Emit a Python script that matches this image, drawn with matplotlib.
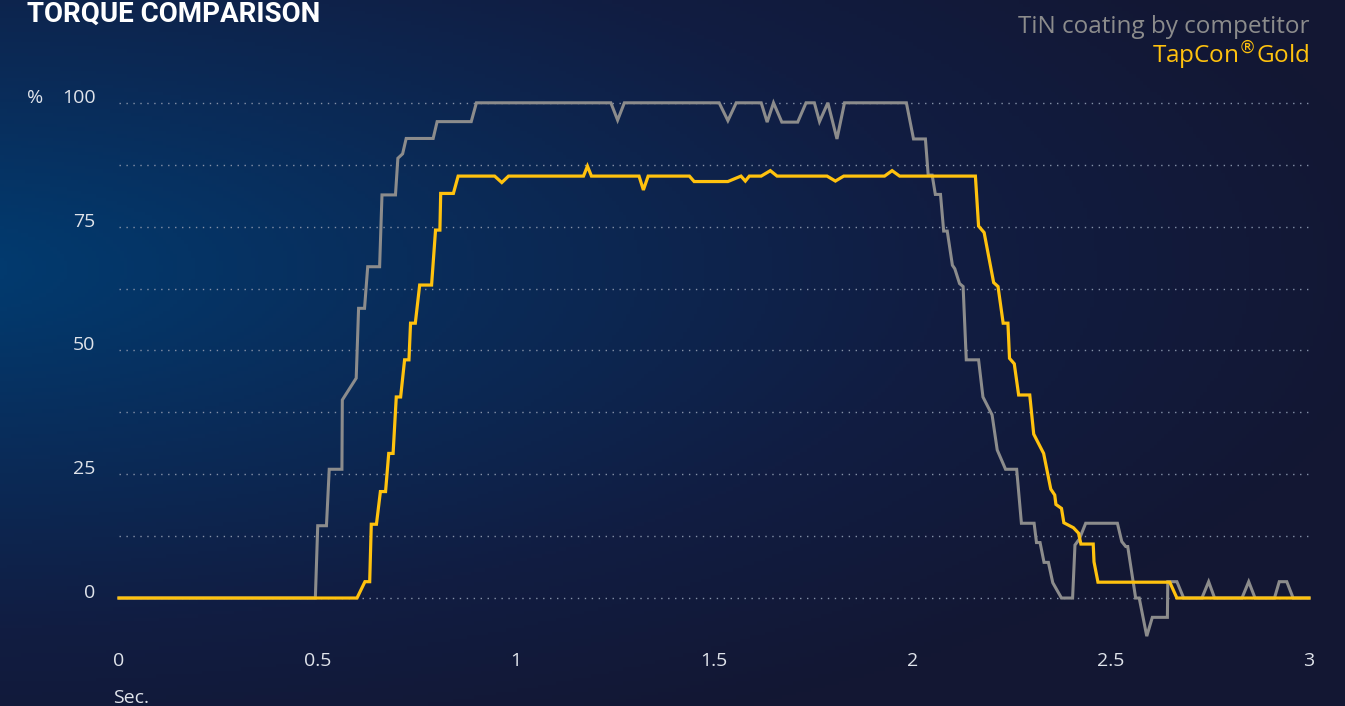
import matplotlib
matplotlib.use("Agg")
import matplotlib.pyplot as plt
import numpy as np
from matplotlib.colors import LinearSegmentedColormap

# time in seconds, torque in %
tin_t = [0, 0.495, 0.501, 0.523, 0.530, 0.562, 0.563, 0.598, 0.604, 0.619,
         0.627, 0.657, 0.663, 0.697, 0.703, 0.715, 0.724, 0.792, 0.802, 0.888,
         0.901, 1.240, 1.257, 1.274, 1.513, 1.535, 1.556, 1.619, 1.634, 1.650,
         1.671, 1.711, 1.732, 1.753, 1.766, 1.787, 1.810, 1.829, 1.985, 2.003,
         2.033, 2.040, 2.050, 2.058, 2.071, 2.079, 2.088, 2.101, 2.107, 2.119,
         2.128, 2.136, 2.167, 2.178, 2.201, 2.214, 2.235, 2.263, 2.275, 2.307,
         2.313, 2.322, 2.332, 2.343, 2.354, 2.376, 2.404, 2.410, 2.421, 2.437,
         2.517, 2.528, 2.538, 2.543, 2.563, 2.572, 2.591, 2.605, 2.643, 2.644,
         2.667, 2.684, 2.730, 2.747, 2.762, 2.831, 2.848, 2.864, 2.913, 2.925,
         2.944, 2.960, 3.0]
tin_v = [0, 0, 14.6, 14.6, 26, 26, 40, 44.4, 58.5, 58.5,
         66.9, 66.9, 81.4, 81.4, 88.8, 89.7, 92.8, 92.8, 96.2, 96.2,
         100, 100, 96.5, 100, 100, 96.4, 100, 100, 96.1, 100,
         96.1, 96.1, 100, 100, 96.2, 100, 92.7, 100, 100, 92.7,
         92.7, 85.4, 85.4, 81.5, 81.5, 74.1, 74.1, 67.2, 66.5, 63.5,
         62.9, 48.1, 48.1, 40.6, 37, 29.9, 26, 26, 15.1, 15.1,
         11.2, 11.2, 7.2, 7.2, 3.1, 0, 0, 10.7, 11.9, 15.1,
         15.1, 11.4, 10.4, 10.4, 0, 0, -7.7, -3.9, -3.9, 3.3,
         3.3, 0, 0, 3.3, 0, 0, 3.3, 0, 0, 3.3,
         3.3, 0, 0]

gold_t = [0, 0.600, 0.620, 0.632, 0.636, 0.649, 0.659, 0.672, 0.680, 0.691,
          0.699, 0.710, 0.720, 0.731, 0.735, 0.747, 0.758, 0.788, 0.798, 0.809,
          0.811, 0.843, 0.855, 0.947, 0.965, 0.982, 1.171, 1.181, 1.191, 1.311,
          1.322, 1.334, 1.438, 1.450, 1.535, 1.568, 1.579, 1.589, 1.619, 1.642,
          1.659, 1.785, 1.806, 1.827, 1.930, 1.949, 1.968, 2.159, 2.167, 2.181,
          2.205, 2.216, 2.229, 2.241, 2.245, 2.257, 2.268, 2.296, 2.306, 2.331,
          2.349, 2.359, 2.362, 2.376, 2.382, 2.406, 2.419, 2.425, 2.456, 2.458,
          2.468, 2.649, 2.667, 3.0]
gold_v = [0, 0, 3.3, 3.3, 14.9, 14.9, 21.5, 21.5, 29.2, 29.2,
          40.6, 40.6, 48.1, 48.1, 55.5, 55.5, 63.2, 63.2, 74.3, 74.3,
          81.7, 81.7, 85.2, 85.2, 83.9, 85.2, 85.2, 87.2, 85.2, 85.2,
          82.4, 85.2, 85.2, 84.1, 84.1, 85.2, 84.2, 85.2, 85.2, 86.3,
          85.2, 85.2, 84.2, 85.2, 85.2, 86.3, 85.2, 85.2, 75.1, 73.8,
          63.7, 62.9, 55.5, 55.5, 48.4, 47.3, 41, 41, 33.1, 29.2,
          22, 20.8, 18.9, 18.1, 15.2, 14.2, 13.1, 10.9, 10.9, 7.3,
          3.2, 3.2, 0, 0]

x_ticks = [0, 0.5, 1, 1.5, 2, 2.5, 3]
x_labels = ["0", "0.5", "1", "1.5", "2", "2.5", "3"]
y_ticks = [0, 25, 50, 75, 100]
y_labels = ["0", "25", "50", "75", "100"]

GRAY = "#8c8c8c"
GOLD = "#ffc20e"
TXT = "#dfe3ea"

plt.rcParams["font.family"] = ["Open Sans", "DejaVu Sans"]

W, H = 1345, 706
fig = plt.figure(figsize=(W / 100, H / 100), dpi=100)

# background gradient
bg = fig.add_axes([0, 0, 1, 1])
yy, xx = np.mgrid[0:1:200j, 0:1:380j]
d = np.sqrt(((xx + 0.05) / 1.1) ** 2 + ((yy - 0.38) / 0.75) ** 2)
d = np.clip(d, 0, 1)
cmap = LinearSegmentedColormap.from_list(
    "bg", ["#023a6e", "#0a2b58", "#111d42", "#131733"])
bg.imshow(d, cmap=cmap, aspect="auto", extent=[0, 1, 1, 0])
bg.axis("off")

ax = fig.add_axes([119 / W, (H - 642.6) / H, 1190 / W, (642.6 - 92.9) / H])
ax.patch.set_alpha(0)
for s in ax.spines.values():
    s.set_visible(False)

ax.set_xlim(0, 3)
ax.set_ylim(-9, 102)
ax.set_yticks(y_ticks, y_labels)
ax.set_xticks(x_ticks, x_labels)
ax.tick_params(length=0, colors=TXT, labelsize=14)
ax.tick_params(axis="y", pad=17)
ax.tick_params(axis="x", pad=7)
plt.setp(ax.get_yticklabels(), va="baseline")

for g in np.arange(0, 101, 12.5):
    ax.axhline(g, color="#8591a8", lw=1, ls=(0, (1, 4)), zorder=1)

ax.plot(tin_t, tin_v, color=GRAY, lw=2.2, zorder=3, clip_on=False,
        solid_joinstyle="miter")
ax.plot(gold_t, gold_v, color=GOLD, lw=2.3, zorder=4, clip_on=False,
        solid_joinstyle="miter")

ax.text(-0.077, 100, "%", color=TXT, fontsize=14, ha="left", va="baseline",
        transform=ax.get_yaxis_transform())

fig.text(27 / W, 1 - 21.7 / H, "TORQUE COMPARISON", color="white",
         fontsize=20, fontweight="bold", family=["Roboto", "DejaVu Sans"],
         ha="left", va="baseline")
fig.text(1309 / W, 1 - 33 / H, "TiN coating by competitor", color=GRAY,
         fontsize=17.5, ha="right", va="baseline")
fig.text(1309 / W, 1 - 64 / H, "TapCon$^{\u00ae}$Gold", color=GOLD,
         fontsize=17.5, ha="right", va="baseline")
fig.text(113 / W, 1 - 703 / H, "Sec.", color=TXT, fontsize=14,
         ha="left", va="baseline")

fig.savefig("out.png", dpi=100)
